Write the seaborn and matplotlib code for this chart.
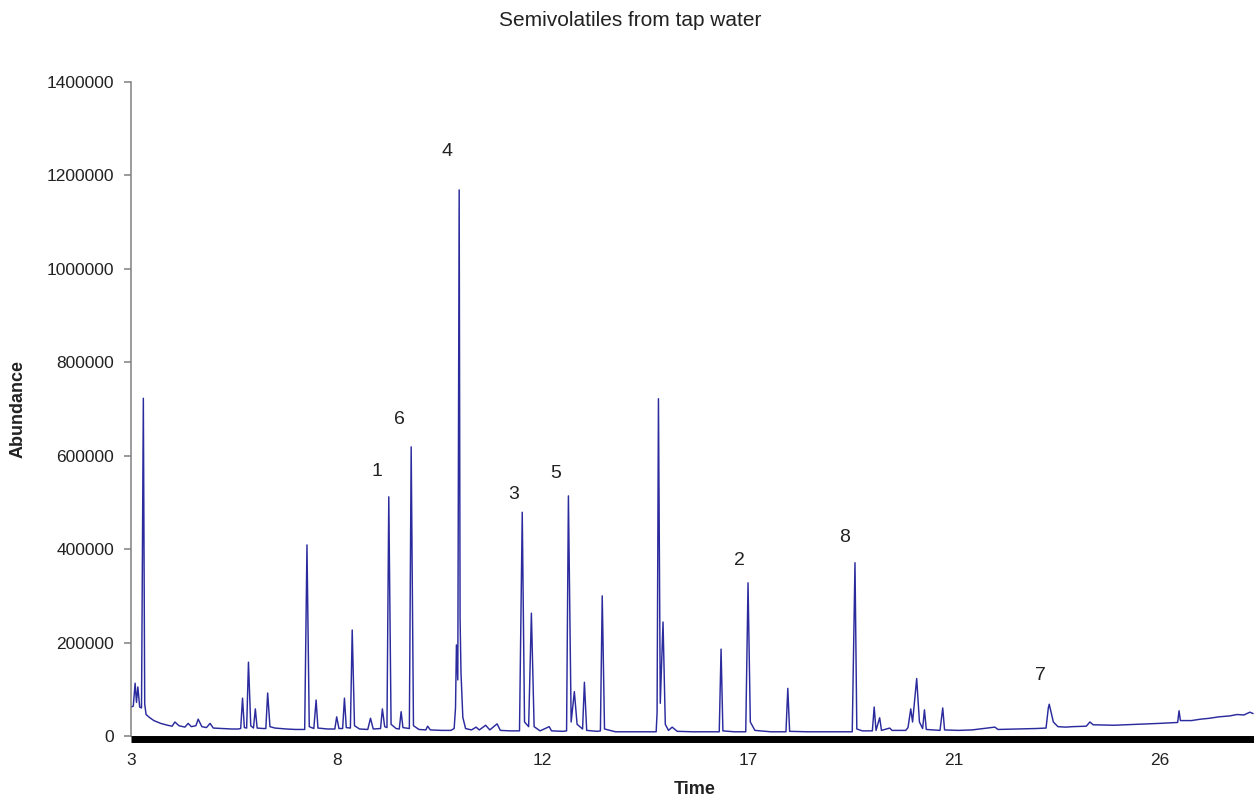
import matplotlib
matplotlib.use("Agg")
import matplotlib.pyplot as plt
import pandas as pd
import seaborn as sns

# ---- chromatogram trace (time in min, abundance) ----
time_min = [
    3.00, 3.05, 3.09, 3.12, 3.15, 3.19, 3.23, 3.27, 3.30, 3.33, 3.40, 3.50, 3.65, 3.80, 3.90,
    3.96, 4.05, 4.18, 4.25, 4.32, 4.42, 4.47, 4.55, 4.65, 4.73, 4.80, 5.00, 5.20, 5.35, 5.40,
    5.44, 5.48, 5.53, 5.57, 5.62, 5.68, 5.72, 5.76, 5.90, 5.95, 5.99, 6.04, 6.15, 6.40, 6.60,
    6.80, 6.85, 6.90, 7.00, 7.05, 7.09, 7.30, 7.46, 7.50, 7.55, 7.63, 7.67, 7.71, 7.80, 7.84,
    7.89, 8.00, 8.18, 8.24, 8.30, 8.46, 8.50, 8.55, 8.60, 8.64, 8.69, 8.80, 8.87, 8.91, 8.95,
    9.09, 9.13, 9.18, 9.30, 9.45, 9.49, 9.55, 9.80, 10.00, 10.07, 10.10, 10.12, 10.15, 10.18, 10.20,
    10.22, 10.26, 10.32, 10.45, 10.55, 10.62, 10.76, 10.85, 11.01, 11.08, 11.30, 11.50, 11.56, 11.61, 11.70,
    11.76, 11.82, 11.95, 12.15, 12.20, 12.45, 12.53, 12.57, 12.63, 12.70, 12.76, 12.88, 12.92, 12.97, 13.20,
    13.27, 13.31, 13.36, 13.60, 14.00, 14.30, 14.49, 14.51, 14.54, 14.58, 14.64, 14.69, 14.76, 14.84, 14.95,
    15.30, 15.70, 15.87, 15.91, 15.95, 16.20, 16.45, 16.50, 16.55, 16.65, 17.00, 17.33, 17.37, 17.41, 17.80,
    18.30, 18.78, 18.84, 18.88, 19.00, 19.22, 19.26, 19.30, 19.38, 19.42, 19.60, 19.65, 19.95, 20.00, 20.06,
    20.10, 20.19, 20.25, 20.32, 20.36, 20.40, 20.70, 20.76, 20.80, 21.10, 21.40, 21.90, 21.97, 22.40, 22.80,
    23.02, 23.07, 23.09, 23.12, 23.18, 23.28, 23.45, 23.60, 23.90, 23.98, 24.05, 24.50, 25.00, 25.50, 25.90,
    25.93, 25.96, 26.20, 26.40, 26.60, 26.80, 27.04, 27.20, 27.35, 27.48, 27.55,
]
abundance = [
    62000, 64000, 113000, 72000, 105000, 62000, 60000, 723000, 68000, 46000, 40000, 33000, 27000, 23000, 21000,
    30000, 22000, 19000, 27000, 20000, 22000, 36000, 20000, 18000, 27000, 17000, 16000, 15000, 15000, 16000,
    81000, 18000, 17000, 158000, 22000, 17000, 58000, 17000, 16000, 16000, 92000, 20000, 17000, 15000, 14000,
    14000, 409000, 20000, 16000, 77000, 17000, 15000, 15000, 41000, 16000, 16000, 81000, 18000, 17000, 227000,
    22000, 15000, 14000, 38000, 15000, 16000, 58000, 20000, 18000, 512000, 25000, 16000, 15000, 52000, 18000,
    16000, 619000, 22000, 14000, 13000, 21000, 13000, 12000, 12000, 16000, 60000, 195000, 120000, 1169000, 250000,
    135000, 40000, 16000, 13000, 19000, 13000, 23000, 13000, 26000, 12000, 11000, 11000, 479000, 30000, 20000,
    263000, 20000, 11000, 20000, 11000, 10000, 11000, 514000, 30000, 95000, 25000, 15000, 115000, 12000, 10000,
    11000, 300000, 15000, 9000, 9000, 9000, 9000, 50000, 722000, 70000, 244000, 25000, 12000, 19000, 10000,
    9000, 9000, 9000, 186000, 11000, 9000, 9000, 328000, 30000, 12000, 9000, 9000, 102000, 10000, 9000,
    9000, 9000, 371000, 15000, 11000, 11000, 62000, 12000, 39000, 12000, 17000, 12000, 12000, 18000, 58000,
    30000, 123000, 30000, 16000, 56000, 14000, 12000, 60000, 13000, 12000, 13000, 19000, 14000, 15000, 16000,
    17000, 60000, 68000, 55000, 30000, 20000, 19000, 20000, 21000, 30000, 24000, 23000, 25000, 27000, 29000,
    54000, 33000, 33000, 36000, 38000, 41000, 43000, 46000, 45000, 51000, 48000,
]

y_ticks = [0, 200000, 400000, 600000, 800000, 1000000, 1200000, 1400000]
x_tick_times = [3.0, 7.5, 12.0, 16.5, 21.0, 25.5]
x_tick_labels = ["3", "8", "12", "17", "21", "26"]

peak_labels = ["1", "2", "3", "4", "5", "6", "7", "8"]
peak_times = [8.64, 16.50, 11.56, 10.18, 12.57, 9.13, 23.09, 18.84]
# label offsets from each apex, in pixels (dx, dy up)
label_offsets_px = [(-12, 25), (-9, 22), (-9, 18), (-12, 38), (-13, 22), (-12, 27), (-9, 29), (-10, 25)]

sns.set_theme(style="white")
plt.rcParams["font.family"] = ["Liberation Sans", "DejaVu Sans"]

W, H = 1254, 795
fig = plt.figure(figsize=(W / 100, H / 100), dpi=100)
ax = fig.add_axes([131 / W, (H - 736) / H, 1 - 131 / W, (736 - 82) / H])

df = pd.DataFrame({"Time": time_min, "Abundance": abundance})
sns.lineplot(data=df, x="Time", y="Abundance", ax=ax, color="#2b2b9e",
             linewidth=1.05, estimator=None, sort=False)

ax.set_xlim(3.0, 27.57)
ax.set_ylim(0, 1400000)

ax.set_yticks(y_ticks)
ax.set_yticklabels([str(v) for v in y_ticks])
ax.set_xticks(x_tick_times)
ax.set_xticklabels(x_tick_labels)

for s in ("top", "right"):
    ax.spines[s].set_visible(False)
ax.spines["left"].set_color("#808080")
ax.spines["left"].set_linewidth(1.1)
ax.spines["bottom"].set_color("black")
ax.spines["bottom"].set_linewidth(5.0)
ax.spines["bottom"].set_capstyle("butt")
ax.spines["bottom"].set_position(("outward", 2.5))

ax.tick_params(axis="y", length=5, width=1.1, color="#808080", labelsize=12.5,
               labelcolor="#222222", pad=7, direction="out", left=True)
ax.tick_params(axis="x", length=0, labelsize=12.5, labelcolor="#222222", pad=10)

ax.set_xlabel("Time", fontsize=13, fontweight="bold", color="#222222", va="center")
ax.xaxis.set_label_coords((695 - 131) / 1123, (736 - 789) / 654)
ax.set_ylabel("Abundance", fontsize=13, fontweight="bold", color="#222222", va="center")
ax.yaxis.set_label_coords((18 - 131) / 1123, 0.5)

fig.text(630 / W, 1 - 21 / H, "Semivolatiles from tap water", ha="center", va="center",
         fontsize=15, color="#222222")

lookup = dict(zip(time_min, abundance))
for lab, t, (dx, dy) in zip(peak_labels, peak_times, label_offsets_px):
    ax.annotate(lab, xy=(t, lookup[t]), xytext=(dx * 0.72, dy * 0.72),
                textcoords="offset points", ha="center", va="center",
                fontsize=14, color="#222222")

fig.savefig("out.png", dpi=100)
